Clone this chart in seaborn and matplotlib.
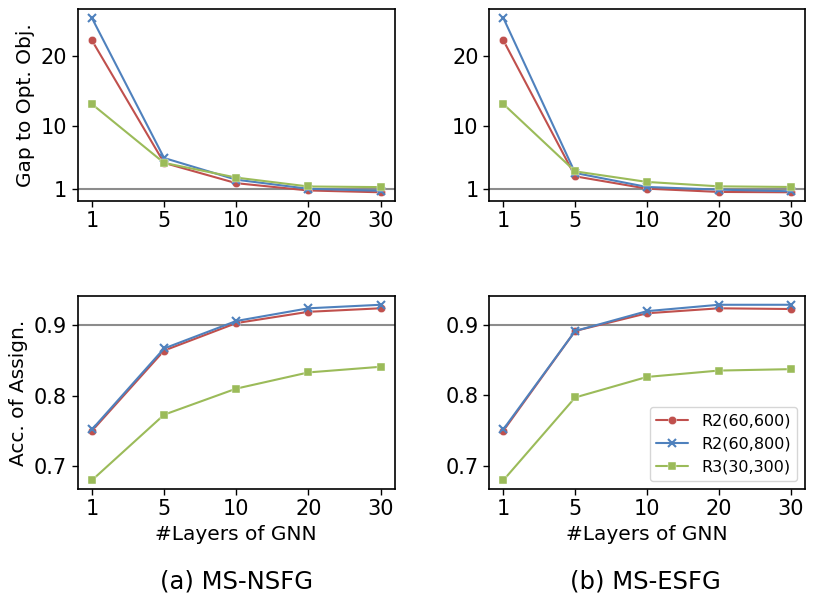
import matplotlib
matplotlib.use("Agg")
import matplotlib.pyplot as plt
import seaborn as sns
import pandas as pd

layers = ["1", "5", "10", "20", "30"]
series = ["R2(60,600)", "R2(60,800)", "R3(30,300)"]

gap_nsfg_r2_600 = [22.2, 4.7, 1.8, 0.76, 0.5]
gap_nsfg_r2_800 = [25.4, 5.4, 2.3, 1.0, 0.71]
gap_nsfg_r3_300 = [13.1, 4.7, 2.6, 1.33, 1.24]

gap_esfg_r2_600 = [22.2, 2.76, 1.0, 0.53, 0.48]
gap_esfg_r2_800 = [25.4, 3.24, 1.24, 0.86, 0.62]
gap_esfg_r3_300 = [13.1, 3.47, 1.96, 1.33, 1.24]

acc_nsfg_r2_600 = [0.750, 0.864, 0.903, 0.919, 0.924]
acc_nsfg_r2_800 = [0.752, 0.867, 0.906, 0.924, 0.929]
acc_nsfg_r3_300 = [0.680, 0.773, 0.810, 0.833, 0.841]

acc_esfg_r2_600 = [0.750, 0.891, 0.916, 0.923, 0.922]
acc_esfg_r2_800 = [0.752, 0.891, 0.919, 0.928, 0.928]
acc_esfg_r3_300 = [0.680, 0.797, 0.826, 0.835, 0.837]

gap_ticks = [1, 10, 20]
acc_ticks = [0.7, 0.8, 0.9]
gap_ref = 1
acc_ref = 0.9

colors = {"R2(60,600)": "#c0504d", "R2(60,800)": "#4f81bd", "R3(30,300)": "#9bbb59"}
markers = {"R2(60,600)": "o", "R2(60,800)": "X", "R3(30,300)": "s"}


def make_df(a, b, c):
    rows = []
    for name, vals in zip(series, [a, b, c]):
        for i, v in enumerate(vals):
            rows.append({"pos": i, "val": v, "series": name})
    return pd.DataFrame(rows)


def fix_markers(lines):
    for ln in lines:
        m = ln.get_marker()
        if m == "X":
            ln.set_marker("x")
            ln.set_markeredgecolor(ln.get_color())
            ln.set_markeredgewidth(1.5)
        elif m in ("o", "s"):
            ln.set_markeredgewidth(0.3)


sns.set_style("ticks")
plt.rcParams["font.family"] = ["DejaVu Sans"]
plt.rcParams["axes.edgecolor"] = "black"
plt.rcParams["xtick.color"] = "black"
plt.rcParams["ytick.color"] = "black"
plt.rcParams["text.color"] = "black"
plt.rcParams["axes.labelcolor"] = "black"

fig = plt.figure(figsize=(8.14, 6.0), dpi=100)
W, H = 814, 600


def add_ax(l, t, r, b):
    return fig.add_axes([l / W, 1 - b / H, (r - l) / W, (b - t) / H])


ax_tl = add_ax(77.5, 9.3, 395, 201)
ax_tr = add_ax(489, 9.3, 805, 201)
ax_bl = add_ax(77.5, 296, 395, 489)
ax_br = add_ax(489, 296, 805, 489)

panels = [
    (ax_tl, make_df(gap_nsfg_r2_600, gap_nsfg_r2_800, gap_nsfg_r3_300), gap_ref, gap_ticks, False),
    (ax_tr, make_df(gap_esfg_r2_600, gap_esfg_r2_800, gap_esfg_r3_300), gap_ref, gap_ticks, False),
    (ax_bl, make_df(acc_nsfg_r2_600, acc_nsfg_r2_800, acc_nsfg_r3_300), acc_ref, acc_ticks, False),
    (ax_br, make_df(acc_esfg_r2_600, acc_esfg_r2_800, acc_esfg_r3_300), acc_ref, acc_ticks, True),
]

for ax, df, ref, yt, leg in panels:
    ax.axhline(ref, color="#8c8c8c", lw=1.5, zorder=0)
    sns.lineplot(data=df, x="pos", y="val", hue="series", style="series",
                 palette=colors, markers=markers, dashes=False, ax=ax,
                 markersize=6, linewidth=1.5, legend=leg)
    fix_markers(ax.get_lines())
    ax.set_xticks(range(len(layers)))
    ax.set_xticklabels(layers)
    ax.set_yticks(yt)
    ax.set_yticklabels([str(t) for t in yt])
    ax.tick_params(labelsize=15, length=4, width=1)
    ax.set_xlim(-0.2, 4.2)
    ax.set_xlabel("")
    ax.set_ylabel("")
    for s in ax.spines.values():
        s.set_linewidth(1.2)

ax_tl.set_ylabel("Gap to Opt. Obj.", fontsize=14.5)
ax_bl.set_ylabel("Acc. of Assign.", fontsize=14.5)
ax_bl.set_xlabel("#Layers of GNN", fontsize=14.5)
ax_br.set_xlabel("#Layers of GNN", fontsize=14.5)

lg = ax_br.legend(loc="lower right", fontsize=11.5, frameon=True, title=None)
lg.get_frame().set_edgecolor("#cccccc")
fix_markers(lg.get_lines())

fig.text(237 / W, 1 - 582 / H, "(a) MS-NSFG", ha="center", va="center", fontsize=17.5)
fig.text(645 / W, 1 - 582 / H, "(b) MS-ESFG", ha="center", va="center", fontsize=17.5)

fig.savefig("out.png", dpi=100)
